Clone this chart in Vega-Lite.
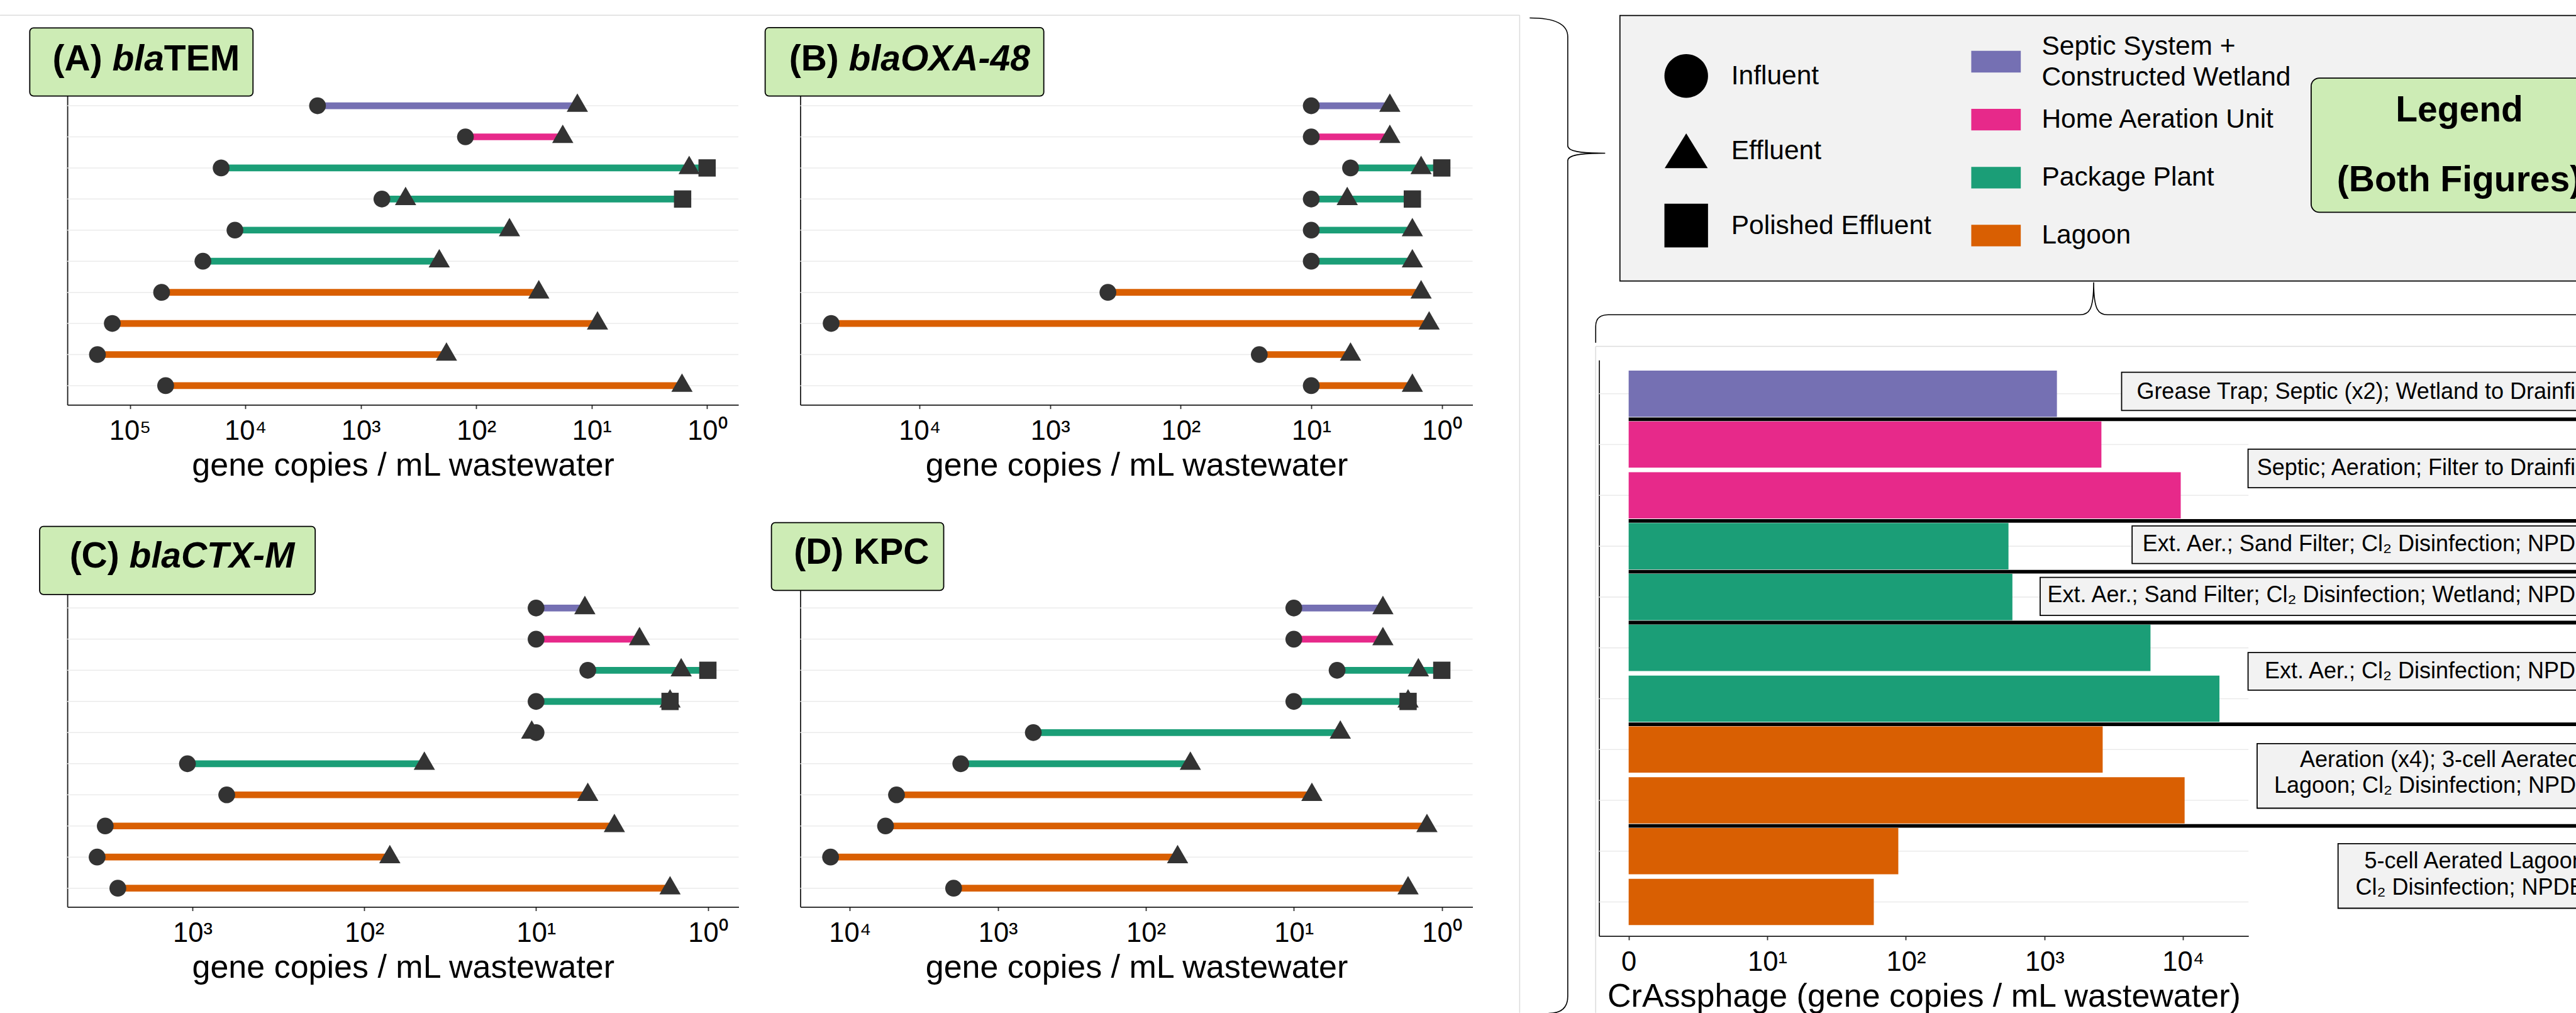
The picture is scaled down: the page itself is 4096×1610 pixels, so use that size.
{
"$schema": "https://vega.github.io/schema/vega-lite/v6.json",
"width": 4096, "height": 1610,
"autosize": {"type": "none"},
"padding": 0,
"background": "#ffffff",
"config": {
  "view": {"stroke": null},
  "font": "Liberation Sans",
  "text": {"font": "Liberation Sans"},
  "axis": {"labelFont": "Liberation Sans", "titleFont": "Liberation Sans", "labelFontSize": 43.5, "titleFontSize": 52, "titleFontWeight": "normal", "labelColor": "#000000", "titleColor": "#000000", "domainColor": "#1a1a1a", "domainWidth": 1.8, "tickColor": "#333333", "tickWidth": 1.8, "tickSize": 6.2, "labelPadding": 48.8, "labelBaseline": "alphabetic", "titleBaseline": "alphabetic", "titleY": 112, "grid": false, "labelFlush": false, "labelOverlap": false}
},
"datasets": {
  "abund": [
    {"gene": "blaTEM", "site": 1, "type": "Septic System + Constructed Wetland", "Influent": 2370, "Effluent": 13.3},
    {"gene": "blaTEM", "site": 2, "type": "Home Aeration Unit", "Influent": 124, "Effluent": 17.8},
    {"gene": "blaTEM", "site": 3, "type": "Package Plant", "Influent": 16200, "Effluent": 1.43, "Polished Effluent": 1.0},
    {"gene": "blaTEM", "site": 4, "type": "Package Plant", "Influent": 656, "Effluent": 409, "Polished Effluent": 1.63},
    {"gene": "blaTEM", "site": 5, "type": "Package Plant", "Influent": 12300, "Effluent": 51.5},
    {"gene": "blaTEM", "site": 6, "type": "Package Plant", "Influent": 23300, "Effluent": 209},
    {"gene": "blaTEM", "site": 7, "type": "Lagoon", "Influent": 53100, "Effluent": 28.7},
    {"gene": "blaTEM", "site": 8, "type": "Lagoon", "Influent": 142000, "Effluent": 8.9},
    {"gene": "blaTEM", "site": 9, "type": "Lagoon", "Influent": 191000, "Effluent": 181},
    {"gene": "blaTEM", "site": 10, "type": "Lagoon", "Influent": 49000, "Effluent": 1.65},
    {"gene": "blaOXA-48", "site": 1, "type": "Septic System + Constructed Wetland", "Influent": 10, "Effluent": 2.5},
    {"gene": "blaOXA-48", "site": 2, "type": "Home Aeration Unit", "Influent": 10, "Effluent": 2.5},
    {"gene": "blaOXA-48", "site": 3, "type": "Package Plant", "Influent": 5.0, "Effluent": 1.44, "Polished Effluent": 1.0},
    {"gene": "blaOXA-48", "site": 4, "type": "Package Plant", "Influent": 10, "Effluent": 5.3, "Polished Effluent": 1.68},
    {"gene": "blaOXA-48", "site": 5, "type": "Package Plant", "Influent": 10, "Effluent": 1.68},
    {"gene": "blaOXA-48", "site": 6, "type": "Package Plant", "Influent": 10, "Effluent": 1.68},
    {"gene": "blaOXA-48", "site": 7, "type": "Lagoon", "Influent": 361, "Effluent": 1.44},
    {"gene": "blaOXA-48", "site": 8, "type": "Lagoon", "Influent": 47600, "Effluent": 1.25},
    {"gene": "blaOXA-48", "site": 9, "type": "Lagoon", "Influent": 25, "Effluent": 5.0},
    {"gene": "blaOXA-48", "site": 10, "type": "Lagoon", "Influent": 10, "Effluent": 1.68},
    {"gene": "blaCTX-M", "site": 1, "type": "Septic System + Constructed Wetland", "Influent": 10, "Effluent": 5.2},
    {"gene": "blaCTX-M", "site": 2, "type": "Home Aeration Unit", "Influent": 10, "Effluent": 2.5},
    {"gene": "blaCTX-M", "site": 3, "type": "Package Plant", "Influent": 5.0, "Effluent": 1.43, "Polished Effluent": 1.0},
    {"gene": "blaCTX-M", "site": 4, "type": "Package Plant", "Influent": 10, "Effluent": 1.66, "Polished Effluent": 1.66},
    {"gene": "blaCTX-M", "site": 5, "type": "Package Plant", "Influent": 10, "Effluent": 10.6},
    {"gene": "blaCTX-M", "site": 6, "type": "Package Plant", "Influent": 1070, "Effluent": 44.7},
    {"gene": "blaCTX-M", "site": 7, "type": "Lagoon", "Influent": 632, "Effluent": 5.0},
    {"gene": "blaCTX-M", "site": 8, "type": "Lagoon", "Influent": 3220, "Effluent": 3.5},
    {"gene": "blaCTX-M", "site": 9, "type": "Lagoon", "Influent": 3590, "Effluent": 71},
    {"gene": "blaCTX-M", "site": 10, "type": "Lagoon", "Influent": 2720, "Effluent": 1.66},
    {"gene": "KPC", "site": 1, "type": "Septic System + Constructed Wetland", "Influent": 10, "Effluent": 2.5},
    {"gene": "KPC", "site": 2, "type": "Home Aeration Unit", "Influent": 10, "Effluent": 2.5},
    {"gene": "KPC", "site": 3, "type": "Package Plant", "Influent": 5.1, "Effluent": 1.44, "Polished Effluent": 1.0},
    {"gene": "KPC", "site": 4, "type": "Package Plant", "Influent": 10, "Effluent": 1.69, "Polished Effluent": 1.69},
    {"gene": "KPC", "site": 5, "type": "Package Plant", "Influent": 576, "Effluent": 4.85},
    {"gene": "KPC", "site": 6, "type": "Package Plant", "Influent": 1780, "Effluent": 50},
    {"gene": "KPC", "site": 7, "type": "Lagoon", "Influent": 4840, "Effluent": 7.55},
    {"gene": "KPC", "site": 8, "type": "Lagoon", "Influent": 5740, "Effluent": 1.26},
    {"gene": "KPC", "site": 9, "type": "Lagoon", "Influent": 13500, "Effluent": 61},
    {"gene": "KPC", "site": 10, "type": "Lagoon", "Influent": 1990, "Effluent": 1.69}
  ],
  "crass": [
    {"bar": 1, "type": "Septic System + Constructed Wetland", "facility": 1, "treatment": "Grease Trap; Septic (x2); Wetland to Drainfield", "crass": 1230},
    {"bar": 2, "type": "Home Aeration Unit", "facility": 2, "treatment": "Septic; Aeration; Filter to Drainfield", "crass": 2575},
    {"bar": 3, "type": "Home Aeration Unit", "facility": 2, "treatment": "Septic; Aeration; Filter to Drainfield", "crass": 9620},
    {"bar": 4, "type": "Package Plant", "facility": 3, "treatment": "Ext. Aer.; Sand Filter; Cl₂ Disinfection; NPDES", "crass": 550},
    {"bar": 5, "type": "Package Plant", "facility": 4, "treatment": "Ext. Aer.; Sand Filter; Cl₂ Disinfection; Wetland; NPDES", "crass": 587},
    {"bar": 6, "type": "Package Plant", "facility": 5, "treatment": "Ext. Aer.; Cl₂ Disinfection; NPDES", "crass": 5820},
    {"bar": 7, "type": "Package Plant", "facility": 5, "treatment": "Ext. Aer.; Cl₂ Disinfection; NPDES", "crass": 18300},
    {"bar": 8, "type": "Lagoon", "facility": 6, "treatment": "Aeration (x4); 3-cell Aerated\nLagoon; Cl₂ Disinfection; NPDES", "crass": 2630},
    {"bar": 9, "type": "Lagoon", "facility": 6, "treatment": "Aeration (x4); 3-cell Aerated\nLagoon; Cl₂ Disinfection; NPDES", "crass": 10260},
    {"bar": 10, "type": "Lagoon", "facility": 7, "treatment": "5-cell Aerated Lagoon;\nCl₂ Disinfection; NPDES", "crass": 88.2},
    {"bar": 11, "type": "Lagoon", "facility": 7, "treatment": "5-cell Aerated Lagoon;\nCl₂ Disinfection; NPDES", "crass": 58.7}
  ],
  "legendColours": [
    {"type": "Septic System + Constructed Wetland", "label": "Septic System +\nConstructed Wetland", "slot": 1},
    {"type": "Home Aeration Unit", "label": "Home Aeration Unit", "slot": 2},
    {"type": "Package Plant", "label": "Package Plant", "slot": 3},
    {"type": "Lagoon", "label": "Lagoon", "slot": 4}
  ],
  "legendShapes": [
    {"sample": "Influent", "slot": 1},
    {"sample": "Effluent", "slot": 2},
    {"sample": "Polished Effluent", "slot": 3}
  ]
},
"layer": [
  {
    "layer": [
      {"data": {"name": "abund"}, "transform": [{"filter": "datum.gene === 'blaTEM'"}],
       "mark": {"type": "rule", "color": "#ebebeb", "strokeWidth": 1.5},
       "encoding": {
         "y": {"field": "site", "type": "quantitative", "scale": {"domain": [0.6872, 10.617], "range": [152.59, 643.42], "nice": false, "zero": false}, "axis": {"orient": "left", "offset": -107.1, "domain": true, "ticks": false, "labels": false, "title": null}},
         "x": {"datum": 348000, "type": "quantitative", "scale": {"type": "log", "domain": [0.5357, 348000], "range": [107.1, 1174.1], "reverse": true, "nice": false, "zero": false}, "axis": {"orient": "bottom", "offset": -966.58, "values": [1, 10, 100, 1000, 10000, 100000], "labelExpr": "'10' + ['⁰','¹','²','³','⁴','⁵','⁶'][round(log(datum.value)/LN10)]", "title": "gene copies / mL wastewater"}},
         "x2": {"datum": 0.5357}
       }},
      {"data": {"name": "abund"}, "transform": [{"filter": "datum.gene === 'blaTEM'"}, {"fold": ["Influent", "Effluent", "Polished Effluent"], "as": ["sample", "conc"]}, {"filter": "isValid(datum.conc)"}],
       "mark": {"type": "rule", "strokeWidth": 10.7, "strokeCap": "butt"},
       "encoding": {
         "y": {"field": "site", "type": "quantitative"},
         "x": {"aggregate": "max", "field": "conc", "type": "quantitative"},
         "x2": {"aggregate": "min", "field": "conc"},
         "color": {"field": "type", "type": "nominal", "scale": {"domain": ["Septic System + Constructed Wetland", "Home Aeration Unit", "Package Plant", "Lagoon"], "range": ["#7570b3", "#e7298a", "#1b9e77", "#d95f02"]}, "legend": null}
       }},
      {"data": {"name": "abund"}, "transform": [{"filter": "datum.gene === 'blaTEM'"}, {"fold": ["Influent", "Effluent", "Polished Effluent"], "as": ["sample", "conc"]}, {"filter": "isValid(datum.conc)"}],
       "mark": {"type": "point", "filled": true, "opacity": 1, "size": 4, "color": "#333333"},
       "encoding": {
         "y": {"field": "site", "type": "quantitative"},
         "x": {"field": "conc", "type": "quantitative"},
         "shape": {"field": "sample", "type": "nominal", "scale": {"domain": ["Influent", "Effluent", "Polished Effluent"], "range": ["M-13.35,0A13.35,13.35,0,1,1,13.35,0A13.35,13.35,0,1,1,-13.35,0Z", "M0,-19.51L16.9,9.76L-16.9,9.76Z", "M-13.75,-13.75L13.75,-13.75L13.75,13.75L-13.75,13.75Z"]}, "legend": null}
       }},
      {"data": {"values": [{}]}, "mark": {"type": "rect", "fill": "#cdecb5", "stroke": "#000000", "strokeWidth": 1.8, "cornerRadius": 6},
       "encoding": {"x": {"datum": 736500}, "x2": {"datum": 8580}, "y": {"datum": -1.5009}, "y2": {"datum": 0.6872}}},
      {"data": {"values": [{}]}, "mark": {"type": "text", "text": "(A) ", "align": "left", "baseline": "alphabetic", "fontSize": 57, "fontWeight": "bold", "color": "#000000"},
       "encoding": {"x": {"datum": 467700}, "y": {"datum": -0.1345}}},
      {"data": {"values": [{}]}, "mark": {"type": "text", "text": "bla", "align": "left", "baseline": "alphabetic", "fontSize": 57, "fontWeight": "bold", "fontStyle": "italic", "dx": 94.96, "color": "#000000"},
       "encoding": {"x": {"datum": 467700}, "y": {"datum": -0.1345}}},
      {"data": {"values": [{}]}, "mark": {"type": "text", "text": "TEM", "align": "left", "baseline": "alphabetic", "fontSize": 57, "fontWeight": "bold", "dx": 177.3, "color": "#000000"},
       "encoding": {"x": {"datum": 467700}, "y": {"datum": -0.1345}}}
    ]
  },
  {
    "layer": [
      {"data": {"name": "abund"}, "transform": [{"filter": "datum.gene === 'blaOXA-48'"}],
       "mark": {"type": "rule", "color": "#ebebeb", "strokeWidth": 1.5},
       "encoding": {
         "y": {"field": "site", "type": "quantitative", "scale": {"domain": [0.6872, 10.617], "range": [152.59, 643.42], "nice": false, "zero": false}, "axis": {"orient": "left", "offset": -1272.5, "domain": true, "ticks": false, "labels": false, "title": null}},
         "x": {"datum": 82035, "type": "quantitative", "scale": {"type": "log", "domain": [0.5808, 82035], "range": [1272.5, 2341.5], "reverse": true, "nice": false, "zero": false}, "axis": {"orient": "bottom", "offset": -966.58, "values": [1, 10, 100, 1000, 10000], "labelExpr": "'10' + ['⁰','¹','²','³','⁴','⁵','⁶'][round(log(datum.value)/LN10)]", "title": "gene copies / mL wastewater"}},
         "x2": {"datum": 0.5808}
       }},
      {"data": {"name": "abund"}, "transform": [{"filter": "datum.gene === 'blaOXA-48'"}, {"fold": ["Influent", "Effluent", "Polished Effluent"], "as": ["sample", "conc"]}, {"filter": "isValid(datum.conc)"}],
       "mark": {"type": "rule", "strokeWidth": 10.7, "strokeCap": "butt"},
       "encoding": {
         "y": {"field": "site", "type": "quantitative"},
         "x": {"aggregate": "max", "field": "conc", "type": "quantitative"},
         "x2": {"aggregate": "min", "field": "conc"},
         "color": {"field": "type", "type": "nominal", "scale": {"domain": ["Septic System + Constructed Wetland", "Home Aeration Unit", "Package Plant", "Lagoon"], "range": ["#7570b3", "#e7298a", "#1b9e77", "#d95f02"]}, "legend": null}
       }},
      {"data": {"name": "abund"}, "transform": [{"filter": "datum.gene === 'blaOXA-48'"}, {"fold": ["Influent", "Effluent", "Polished Effluent"], "as": ["sample", "conc"]}, {"filter": "isValid(datum.conc)"}],
       "mark": {"type": "point", "filled": true, "opacity": 1, "size": 4, "color": "#333333"},
       "encoding": {
         "y": {"field": "site", "type": "quantitative"},
         "x": {"field": "conc", "type": "quantitative"},
         "shape": {"field": "sample", "type": "nominal", "scale": {"domain": ["Influent", "Effluent", "Polished Effluent"], "range": ["M-13.35,0A13.35,13.35,0,1,1,13.35,0A13.35,13.35,0,1,1,-13.35,0Z", "M0,-19.51L16.9,9.76L-16.9,9.76Z", "M-13.75,-13.75L13.75,-13.75L13.75,13.75L-13.75,13.75Z"]}, "legend": null}
       }},
      {"data": {"values": [{}]}, "mark": {"type": "rect", "fill": "#cdecb5", "stroke": "#000000", "strokeWidth": 1.8, "cornerRadius": 6},
       "encoding": {"x": {"datum": 152450}, "x2": {"datum": 1118.6}, "y": {"datum": -1.5117}, "y2": {"datum": 0.6872}}},
      {"data": {"values": [{}]}, "mark": {"type": "text", "text": "(B) ", "align": "left", "baseline": "alphabetic", "fontSize": 57, "fontWeight": "bold", "color": "#000000"},
       "encoding": {"x": {"datum": 100000}, "y": {"datum": -0.1345}}},
      {"data": {"values": [{}]}, "mark": {"type": "text", "text": "blaOXA-48", "align": "left", "baseline": "alphabetic", "fontSize": 57, "fontWeight": "bold", "fontStyle": "italic", "dx": 94.96, "color": "#000000"},
       "encoding": {"x": {"datum": 100000}, "y": {"datum": -0.1345}}}
    ]
  },
  {
    "layer": [
      {"data": {"name": "abund"}, "transform": [{"filter": "datum.gene === 'blaCTX-M'"}],
       "mark": {"type": "rule", "color": "#ebebeb", "strokeWidth": 1.5},
       "encoding": {
         "y": {"field": "site", "type": "quantitative", "scale": {"domain": [0.5636, 10.598], "range": [944.78, 1441.29], "nice": false, "zero": false}, "axis": {"orient": "left", "offset": -107.1, "domain": true, "ticks": false, "labels": false, "title": null}},
         "x": {"datum": 5350, "type": "quantitative", "scale": {"type": "log", "domain": [0.6619, 5350], "range": [107.1, 1174.5], "reverse": true, "nice": false, "zero": false}, "axis": {"orient": "bottom", "offset": -168.71, "values": [1, 10, 100, 1000], "labelExpr": "'10' + ['⁰','¹','²','³','⁴','⁵','⁶'][round(log(datum.value)/LN10)]", "title": "gene copies / mL wastewater"}},
         "x2": {"datum": 0.6619}
       }},
      {"data": {"name": "abund"}, "transform": [{"filter": "datum.gene === 'blaCTX-M'"}, {"fold": ["Influent", "Effluent", "Polished Effluent"], "as": ["sample", "conc"]}, {"filter": "isValid(datum.conc)"}],
       "mark": {"type": "rule", "strokeWidth": 10.7, "strokeCap": "butt"},
       "encoding": {
         "y": {"field": "site", "type": "quantitative"},
         "x": {"aggregate": "max", "field": "conc", "type": "quantitative"},
         "x2": {"aggregate": "min", "field": "conc"},
         "color": {"field": "type", "type": "nominal", "scale": {"domain": ["Septic System + Constructed Wetland", "Home Aeration Unit", "Package Plant", "Lagoon"], "range": ["#7570b3", "#e7298a", "#1b9e77", "#d95f02"]}, "legend": null}
       }},
      {"data": {"name": "abund"}, "transform": [{"filter": "datum.gene === 'blaCTX-M'"}, {"fold": ["Influent", "Effluent", "Polished Effluent"], "as": ["sample", "conc"]}, {"filter": "isValid(datum.conc)"}],
       "mark": {"type": "point", "filled": true, "opacity": 1, "size": 4, "color": "#333333"},
       "encoding": {
         "y": {"field": "site", "type": "quantitative"},
         "x": {"field": "conc", "type": "quantitative"},
         "shape": {"field": "sample", "type": "nominal", "scale": {"domain": ["Influent", "Effluent", "Polished Effluent"], "range": ["M-13.35,0A13.35,13.35,0,1,1,13.35,0A13.35,13.35,0,1,1,-13.35,0Z", "M0,-19.51L16.9,9.76L-16.9,9.76Z", "M-13.75,-13.75L13.75,-13.75L13.75,13.75L-13.75,13.75Z"]}, "legend": null}
       }},
      {"data": {"values": [{}]}, "mark": {"type": "rect", "fill": "#cdecb5", "stroke": "#000000", "strokeWidth": 1.8, "cornerRadius": 6},
       "encoding": {"x": {"datum": 7753}, "x2": {"datum": 193.0}, "y": {"datum": -1.6203}, "y2": {"datum": 0.5636}}},
      {"data": {"values": [{}]}, "mark": {"type": "text", "text": "(C) ", "align": "left", "baseline": "alphabetic", "fontSize": 57, "fontWeight": "bold", "color": "#000000"},
       "encoding": {"x": {"datum": 5193}, "y": {"datum": -0.2913}}},
      {"data": {"values": [{}]}, "mark": {"type": "text", "text": "blaCTX-M", "align": "left", "baseline": "alphabetic", "fontSize": 57, "fontWeight": "bold", "fontStyle": "italic", "dx": 94.96, "color": "#000000"},
       "encoding": {"x": {"datum": 5193}, "y": {"datum": -0.2913}}}
    ]
  },
  {
    "layer": [
      {"data": {"name": "abund"}, "transform": [{"filter": "datum.gene === 'KPC'"}],
       "mark": {"type": "rule", "color": "#ebebeb", "strokeWidth": 1.5},
       "encoding": {
         "y": {"field": "site", "type": "quantitative", "scale": {"domain": [0.4343, 10.598], "range": [938.38, 1441.29], "nice": false, "zero": false}, "axis": {"orient": "left", "offset": -1272.5, "domain": true, "ticks": false, "labels": false, "title": null}},
         "x": {"datum": 21627, "type": "quantitative", "scale": {"type": "log", "domain": [0.6194, 21627], "range": [1272.5, 2341.5], "reverse": true, "nice": false, "zero": false}, "axis": {"orient": "bottom", "offset": -168.71, "values": [1, 10, 100, 1000, 10000], "labelExpr": "'10' + ['⁰','¹','²','³','⁴','⁵','⁶'][round(log(datum.value)/LN10)]", "title": "gene copies / mL wastewater"}},
         "x2": {"datum": 0.6194}
       }},
      {"data": {"name": "abund"}, "transform": [{"filter": "datum.gene === 'KPC'"}, {"fold": ["Influent", "Effluent", "Polished Effluent"], "as": ["sample", "conc"]}, {"filter": "isValid(datum.conc)"}],
       "mark": {"type": "rule", "strokeWidth": 10.7, "strokeCap": "butt"},
       "encoding": {
         "y": {"field": "site", "type": "quantitative"},
         "x": {"aggregate": "max", "field": "conc", "type": "quantitative"},
         "x2": {"aggregate": "min", "field": "conc"},
         "color": {"field": "type", "type": "nominal", "scale": {"domain": ["Septic System + Constructed Wetland", "Home Aeration Unit", "Package Plant", "Lagoon"], "range": ["#7570b3", "#e7298a", "#1b9e77", "#d95f02"]}, "legend": null}
       }},
      {"data": {"name": "abund"}, "transform": [{"filter": "datum.gene === 'KPC'"}, {"fold": ["Influent", "Effluent", "Polished Effluent"], "as": ["sample", "conc"]}, {"filter": "isValid(datum.conc)"}],
       "mark": {"type": "point", "filled": true, "opacity": 1, "size": 4, "color": "#333333"},
       "encoding": {
         "y": {"field": "site", "type": "quantitative"},
         "x": {"field": "conc", "type": "quantitative"},
         "shape": {"field": "sample", "type": "nominal", "scale": {"domain": ["Influent", "Effluent", "Polished Effluent"], "range": ["M-13.35,0A13.35,13.35,0,1,1,13.35,0A13.35,13.35,0,1,1,-13.35,0Z", "M0,-19.51L16.9,9.76L-16.9,9.76Z", "M-13.75,-13.75L13.75,-13.75L13.75,13.75L-13.75,13.75Z"]}, "legend": null}
       }},
      {"data": {"values": [{}]}, "mark": {"type": "rect", "fill": "#cdecb5", "stroke": "#000000", "strokeWidth": 1.8, "cornerRadius": 6},
       "encoding": {"x": {"datum": 33880}, "x2": {"datum": 2322}, "y": {"datum": -1.7425}, "y2": {"datum": 0.4343}}},
      {"data": {"values": [{}]}, "mark": {"type": "text", "text": "(D) KPC", "align": "left", "baseline": "alphabetic", "fontSize": 57, "fontWeight": "bold", "color": "#000000"},
       "encoding": {"x": {"datum": 23920}, "y": {"datum": -0.4296}}}
    ]
  },
  {
    "layer": [
      {"data": {"name": "crass"},
       "mark": {"type": "rule", "color": "#ebebeb", "strokeWidth": 1.6},
       "encoding": {
         "y": {"field": "bar", "type": "quantitative", "scale": {"domain": [0.4004, 11.608], "range": [572.32, 1487.68], "nice": false, "zero": false}, "axis": {"orient": "left", "offset": -2542.6, "domain": true, "ticks": false, "labels": false, "title": null}},
         "x": {"datum": 0.6115, "type": "quantitative", "scale": {"type": "log", "domain": [0.6115, 29636], "range": [2542.6, 3575.2], "nice": false, "zero": false}, "axis": {"orient": "bottom", "offset": -122.32, "values": [1, 10, 100, 1000, 10000], "labelExpr": "datum.value < 2 ? '0' : '10' + ['⁰','¹','²','³','⁴','⁵','⁶'][round(log(datum.value)/LN10)]", "title": "CrAssphage (gene copies / mL wastewater)"}},
         "x2": {"datum": 29636}
       }},
      {"data": {"name": "crass"},
       "mark": {"type": "bar", "orient": "horizontal", "size": 73.6},
       "encoding": {
         "y": {"field": "bar", "type": "quantitative"},
         "x": {"field": "crass", "type": "quantitative"},
         "x2": {"datum": 1},
         "color": {"field": "type", "type": "nominal", "scale": {"domain": ["Septic System + Constructed Wetland", "Home Aeration Unit", "Package Plant", "Lagoon"], "range": ["#7570b3", "#e7298a", "#1b9e77", "#d95f02"]}, "legend": null}
       }},
      {"data": {"name": "crass"}, "transform": [{"filter": "datum.facility != 7"}],
       "mark": {"type": "rule", "color": "#000000", "strokeWidth": 5.8, "yOffset": 40.6},
       "encoding": {
         "y": {"aggregate": "max", "field": "bar", "type": "quantitative"},
         "detail": {"field": "facility", "type": "nominal"},
         "x": {"datum": 1},
         "x2": {"datum": 15910000}
       }},
      {"data": {"values": [{}]}, "mark": {"type": "rect", "fill": "#f2f2f2", "stroke": "#000000", "strokeWidth": 1.8},
       "encoding": {"x": {"datum": 3602}, "x2": {"datum": 15910000}, "y": {"datum": 0.578}, "y2": {"datum": 1.329}}},
      {"data": {"values": [{}]}, "mark": {"type": "rect", "fill": "#f2f2f2", "stroke": "#000000", "strokeWidth": 1.8},
       "encoding": {"x": {"datum": 29440}, "x2": {"datum": 15910000}, "y": {"datum": 2.091}, "y2": {"datum": 2.849}}},
      {"data": {"values": [{}]}, "mark": {"type": "rect", "fill": "#f2f2f2", "stroke": "#000000", "strokeWidth": 1.8},
       "encoding": {"x": {"datum": 4288}, "x2": {"datum": 15910000}, "y": {"datum": 3.600}, "y2": {"datum": 4.340}}},
      {"data": {"values": [{}]}, "mark": {"type": "rect", "fill": "#f2f2f2", "stroke": "#000000", "strokeWidth": 1.8},
       "encoding": {"x": {"datum": 931}, "x2": {"datum": 15910000}, "y": {"datum": 4.612}, "y2": {"datum": 5.363}}},
      {"data": {"values": [{}]}, "mark": {"type": "rect", "fill": "#f2f2f2", "stroke": "#000000", "strokeWidth": 1.8},
       "encoding": {"x": {"datum": 29440}, "x2": {"datum": 15910000}, "y": {"datum": 6.092}, "y2": {"datum": 6.832}}},
      {"data": {"values": [{}]}, "mark": {"type": "rect", "fill": "#f2f2f2", "stroke": "#000000", "strokeWidth": 1.8},
       "encoding": {"x": {"datum": 34220}, "x2": {"datum": 15910000}, "y": {"datum": 7.885}, "y2": {"datum": 9.155}}},
      {"data": {"values": [{}]}, "mark": {"type": "rect", "fill": "#f2f2f2", "stroke": "#000000", "strokeWidth": 1.8},
       "encoding": {"x": {"datum": 131300}, "x2": {"datum": 15910000}, "y": {"datum": 9.852}, "y2": {"datum": 11.123}}},
      {"data": {"name": "crass"}, "transform": [{"filter": "datum.facility < 6"}],
       "mark": {"type": "text", "align": "right", "baseline": "middle", "fontSize": 36, "dy": -3, "color": "#000000"},
       "encoding": {
         "y": {"aggregate": "mean", "field": "bar", "type": "quantitative"},
         "x": {"datum": 11180000},
         "text": {"field": "treatment", "type": "nominal"}
       }},
      {"data": {"name": "crass"}, "transform": [{"filter": "datum.facility == 6"}],
       "mark": {"type": "text", "align": "center", "baseline": "middle", "fontSize": 36, "lineBreak": "\n", "lineHeight": 41.8, "dy": -24, "color": "#000000"},
       "encoding": {
         "y": {"aggregate": "mean", "field": "bar", "type": "quantitative"},
         "x": {"datum": 715900},
         "text": {"field": "treatment", "type": "nominal"}
       }},
      {"data": {"name": "crass"}, "transform": [{"filter": "datum.facility == 7"}],
       "mark": {"type": "text", "align": "center", "baseline": "middle", "fontSize": 36, "lineBreak": "\n", "lineHeight": 41.8, "dy": -24, "color": "#000000"},
       "encoding": {
         "y": {"aggregate": "mean", "field": "bar", "type": "quantitative"},
         "x": {"datum": 1333500},
         "text": {"field": "treatment", "type": "nominal"}
       }}
    ]
  },
  {
    "layer": [
      {
        "layer": [
          {"data": {"values": [{}]}, "mark": {"type": "rule", "color": "#dcdcdc", "strokeWidth": 1.5},
           "encoding": {
             "x": {"datum": -5.4429, "type": "quantitative", "scale": {"domain": [0, 1], "range": [2681.2, 3173.8], "nice": false, "zero": false}, "axis": null},
             "x2": {"datum": -0.5376},
             "y": {"datum": 0.1994, "type": "quantitative", "scale": {"domain": [1, 4], "range": [98.02, 374.41], "nice": false, "zero": false}, "axis": null}
           }},
          {"data": {"values": [{}]}, "mark": {"type": "rule", "color": "#dcdcdc", "strokeWidth": 1.5},
           "encoding": {"x": {"datum": -0.5376, "axis": null}, "y": {"datum": 0.1994, "axis": null}, "y2": {"datum": 17.41}}},
          {"data": {"values": [{}]}, "mark": {"type": "rule", "color": "#dcdcdc", "strokeWidth": 1.5},
           "encoding": {"x": {"datum": -0.2923, "axis": null}, "x2": {"datum": 3.2}, "y": {"datum": 5.9117, "axis": null}}},
          {"data": {"values": [{}]}, "mark": {"type": "rule", "color": "#dcdcdc", "strokeWidth": 1.5},
           "encoding": {"x": {"datum": -0.2923, "axis": null}, "y": {"datum": 5.9117, "axis": null}, "y2": {"datum": 17.41}}},
          {"data": {"values": [{}]}, "mark": {"type": "rect", "fill": "#f2f2f2", "stroke": "#000000", "strokeWidth": 1.7},
           "encoding": {"x": {"datum": -0.214, "axis": null}, "x2": {"datum": 3.2}, "y": {"datum": 0.2023, "axis": null}, "y2": {"datum": 4.7832}}},
          {"data": {"values": [{}]}, "mark": {"type": "rect", "fill": "#cdecb5", "stroke": "#000000", "strokeWidth": 1.8, "cornerRadius": 13},
           "encoding": {"x": {"datum": 2.0172, "axis": null}, "x2": {"datum": 2.972}, "y": {"datum": 1.2836, "axis": null}, "y2": {"datum": 3.5977}}},
          {"data": {"values": [{}]}, "mark": {"type": "text", "text": "Legend", "align": "center", "baseline": "alphabetic", "fontSize": 57, "fontWeight": "bold", "color": "#000000"},
           "encoding": {"x": {"datum": 2.4955, "axis": null}, "y": {"datum": 2.0331, "axis": null}}},
          {"data": {"values": [{}]}, "mark": {"type": "text", "text": "(Both Figures)", "align": "center", "baseline": "alphabetic", "fontSize": 57, "fontWeight": "bold", "color": "#000000"},
           "encoding": {"x": {"datum": 2.4955, "axis": null}, "y": {"datum": 3.2331, "axis": null}}},
          {"data": {"name": "legendColours"},
           "mark": {"type": "point", "filled": true, "opacity": 1, "size": 4, "shape": "M-39.37,-17.15L39.37,-17.15L39.37,17.15L-39.37,17.15Z"},
           "encoding": {
             "x": {"datum": 1, "axis": null},
             "y": {"field": "slot", "type": "quantitative", "axis": null},
             "color": {"field": "type", "type": "nominal", "scale": {"domain": ["Septic System + Constructed Wetland", "Home Aeration Unit", "Package Plant", "Lagoon"], "range": ["#7570b3", "#e7298a", "#1b9e77", "#d95f02"]}, "legend": null}
           }},
          {"data": {"name": "legendColours"}, "transform": [{"filter": "datum.slot > 1"}],
           "mark": {"type": "text", "align": "left", "baseline": "middle", "fontSize": 42.5, "dx": 72.6, "color": "#000000"},
           "encoding": {
             "x": {"datum": 1, "axis": null},
             "y": {"field": "slot", "type": "quantitative", "axis": null},
             "text": {"field": "label", "type": "nominal"}
           }},
          {"data": {"name": "legendColours"}, "transform": [{"filter": "datum.slot == 1"}],
           "mark": {"type": "text", "align": "left", "baseline": "middle", "fontSize": 42.5, "dx": 72.6, "dy": -24.5, "lineBreak": "\n", "lineHeight": 49.1, "color": "#000000"},
           "encoding": {
             "x": {"datum": 1, "axis": null},
             "y": {"field": "slot", "type": "quantitative", "axis": null},
             "text": {"field": "label", "type": "nominal"}
           }},
          {"data": {"values": [{}]}, "mark": {"type": "point", "filled": false, "opacity": 1, "size": 4, "color": "#000000", "strokeWidth": 1.6, "shape": "M-120,-215C-80,-215,-59.5,-205,-59.5,-185L-59.5,-12C-59.5,-3,-40,0,0,0C-40,0,-59.5,3,-59.5,12L-59.5,1340C-59.5,1358,-70,1367,-90,1367"},
           "encoding": {"x": {"datum": -0.2616, "axis": null}, "y": {"datum": 2.5791, "axis": null}}},
          {"data": {"values": [{}]}, "mark": {"type": "point", "filled": false, "opacity": 1, "size": 4, "color": "#000000", "strokeWidth": 1.6, "shape": "M-791.8,96L-791.8,70C-791.8,58,-785,51.5,-772,51.5L-22,51.5C-8,51.5,0,45,0,0C0,45,8,51.5,22,51.5L900,51.5"},
           "encoding": {"x": {"datum": 1.3152, "axis": null}, "y": {"datum": 4.8074, "axis": null}}}
        ]
      },
      {
        "data": {"name": "legendShapes"},
        "layer": [
          {"mark": {"type": "point", "filled": true, "opacity": 1, "size": 4, "color": "#000000"},
           "encoding": {
             "x": {"datum": 0, "axis": null},
             "y": {"field": "slot", "type": "quantitative", "scale": {"domain": [1, 3], "range": [120.77, 358.5], "nice": false, "zero": false}, "axis": null},
             "shape": {"field": "sample", "type": "nominal", "scale": {"domain": ["Influent", "Effluent", "Polished Effluent"], "range": ["M-34.66,0A34.66,34.66,0,1,1,34.66,0A34.66,34.66,0,1,1,-34.66,0Z", "M0,-27.55L34.2,27.55L-34.2,27.55Z", "M-34.66,-34.66L34.66,-34.66L34.66,34.66L-34.66,34.66Z"]}, "legend": null}
           }},
          {"mark": {"type": "text", "align": "left", "baseline": "middle", "fontSize": 42.5, "dx": 71.5, "color": "#000000"},
           "encoding": {
             "x": {"datum": 0, "axis": null},
             "y": {"field": "slot", "type": "quantitative", "axis": null},
             "text": {"field": "sample", "type": "nominal"}
           }}
        ]
      }
    ],
    "resolve": {"scale": {"y": "independent", "shape": "independent"}}
  }
],
"resolve": {"scale": {"x": "independent", "y": "independent", "shape": "independent"}, "axis": {"x": "independent", "y": "independent"}}
}
